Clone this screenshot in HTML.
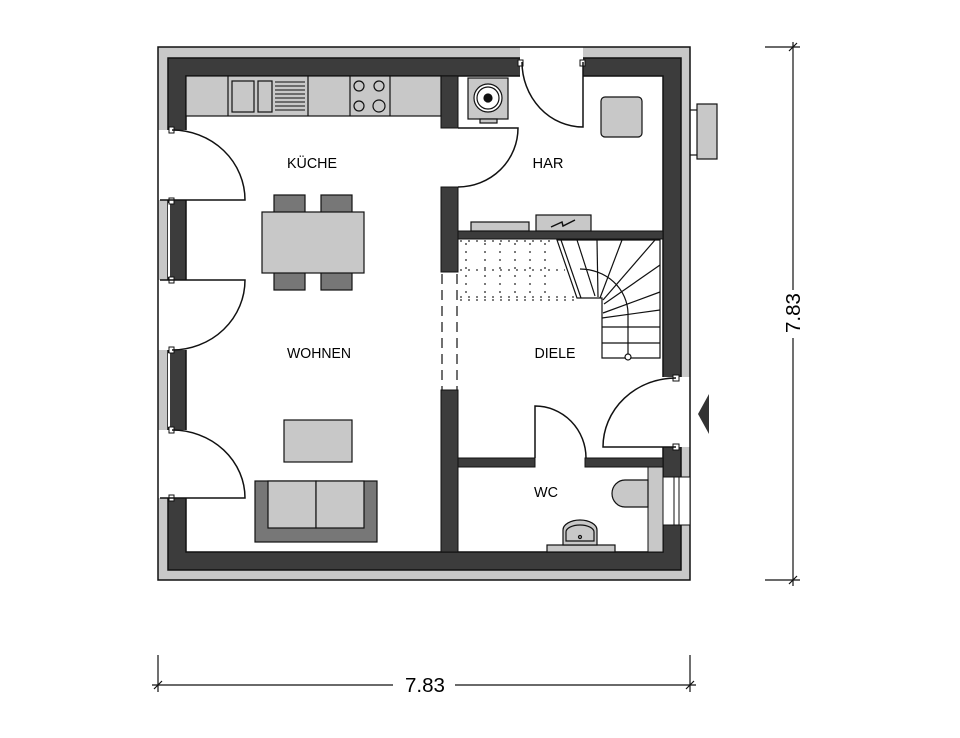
<!DOCTYPE html>
<html><head><meta charset="utf-8"><style>
html,body{margin:0;padding:0;background:#fff;}
svg{display:block;}
text{font-family:"Liberation Sans",sans-serif;font-size:15px;fill:#000;}
</style></head><body>
<svg width="960" height="738" viewBox="0 0 960 738" xmlns="http://www.w3.org/2000/svg">
<g stroke="#111" stroke-width="1.5">
<rect x="158" y="47" width="532" height="533" fill="#c8c8c8"/>
<rect x="168" y="58" width="513" height="512" fill="#3c3c3c"/>
<rect x="186" y="76" width="477" height="476" fill="#fff"/>
</g>
<rect x="157" y="130" width="30" height="70" fill="#fff"/>
<rect x="157" y="280" width="30" height="70" fill="#fff"/>
<rect x="157" y="430" width="30" height="68" fill="#fff"/>
<line x1="158" y1="130" x2="158" y2="200" stroke="#111" stroke-width="1.5"/>
<line x1="158" y1="280" x2="158" y2="350" stroke="#111" stroke-width="1.5"/>
<line x1="158" y1="430" x2="158" y2="498" stroke="#111" stroke-width="1.5"/>
<rect x="168" y="203" width="2" height="74" fill="#fff"/>
<rect x="168" y="353" width="2" height="74" fill="#fff"/>
<g fill="#fff" stroke="#111" stroke-width="1">
<rect x="169" y="127" width="5" height="6"/><rect x="169" y="198" width="5" height="6"/>
<rect x="169" y="277" width="5" height="6"/><rect x="169" y="347" width="5" height="6"/>
<rect x="169" y="427" width="5" height="6"/><rect x="169" y="495" width="5" height="6"/>
</g>
<g fill="none" stroke="#111" stroke-width="1.5">
<path d="M172 130 A73 70 0 0 1 245 200 L160 200"/>
<path d="M160 280 L245 280 A73 70 0 0 1 172 350"/>
<path d="M172 430 A73 68 0 0 1 245 498 L160 498"/>
</g>
<rect x="520" y="46" width="63" height="31" fill="#fff"/>
<line x1="520" y1="47" x2="583" y2="47" stroke="#111" stroke-width="1.5"/>
<g fill="#fff" stroke="#111" stroke-width="1"><rect x="518" y="60" width="5" height="6"/><rect x="580" y="60" width="5" height="6"/></g>
<path d="M522 62 A61 65 0 0 0 583 127 L583 62" fill="none" stroke="#111" stroke-width="1.5"/>
<rect x="662" y="377" width="29" height="70" fill="#fff"/>
<line x1="690" y1="377" x2="690" y2="447" stroke="#111" stroke-width="1.5"/>
<g fill="#fff" stroke="#111" stroke-width="1"><rect x="673" y="375" width="6" height="6"/><rect x="673" y="444" width="6" height="6"/></g>
<path d="M676 378 A73 69 0 0 0 603 447 L676 447" fill="none" stroke="#111" stroke-width="1.5"/>
<rect x="663" y="477" width="27" height="48" fill="#fff" stroke="#111" stroke-width="1"/>
<rect x="674" y="477" width="5" height="48" fill="#fff" stroke="#111" stroke-width="1"/>
<rect x="441" y="76" width="17" height="52" fill="#3c3c3c" stroke="#111"/>
<rect x="441" y="187" width="17" height="85" fill="#3c3c3c" stroke="#111"/>
<rect x="441" y="390" width="17" height="162" fill="#3c3c3c" stroke="#111"/>
<g stroke="#111" stroke-width="1.2" stroke-dasharray="10 6"><line x1="442" y1="274" x2="442" y2="390"/><line x1="457" y1="274" x2="457" y2="390"/></g>
<path d="M458 187 A60 59 0 0 0 518 128 L458 128" fill="none" stroke="#111" stroke-width="1.5"/>
<rect x="458" y="231" width="205" height="8" fill="#3c3c3c" stroke="#111"/>
<rect x="458" y="458" width="77" height="9" fill="#3c3c3c" stroke="#111"/>
<rect x="585" y="458" width="78" height="9" fill="#3c3c3c" stroke="#111"/>
<path d="M535 458 L535 406 A51 52 0 0 1 586 458" fill="none" stroke="#111" stroke-width="1.5"/>
<rect x="648" y="467" width="15" height="85" fill="#c8c8c8" stroke="#111"/>
<g stroke="#111" stroke-width="1.2" fill="#c8c8c8">
<rect x="186" y="76" width="255" height="40"/>
<line x1="228" y1="76" x2="228" y2="116"/><line x1="308" y1="76" x2="308" y2="116"/>
<line x1="350" y1="76" x2="350" y2="116"/><line x1="390" y1="76" x2="390" y2="116"/>
<rect x="232" y="81" width="22" height="31"/><rect x="258" y="81" width="14" height="31"/>
<circle cx="359" cy="86" r="5" fill="none"/><circle cx="379" cy="86" r="5" fill="none"/>
<circle cx="359" cy="106" r="5" fill="none"/><circle cx="379" cy="106" r="6" fill="none"/>
</g>
<g stroke="#111" stroke-width="1"><line x1="275" y1="82" x2="305" y2="82"/><line x1="275" y1="86" x2="305" y2="86"/><line x1="275" y1="90" x2="305" y2="90"/><line x1="275" y1="94" x2="305" y2="94"/><line x1="275" y1="98" x2="305" y2="98"/><line x1="275" y1="102" x2="305" y2="102"/><line x1="275" y1="106" x2="305" y2="106"/><line x1="275" y1="110" x2="305" y2="110"/></g>
<g stroke="#111" stroke-width="1.2">
<rect x="274" y="195" width="31" height="18" fill="#777"/><rect x="321" y="195" width="31" height="18" fill="#777"/>
<rect x="274" y="272" width="31" height="18" fill="#777"/><rect x="321" y="272" width="31" height="18" fill="#777"/>
<rect x="262" y="212" width="102" height="61" fill="#c8c8c8"/>
<rect x="284" y="420" width="68" height="42" fill="#c8c8c8"/>
<rect x="255" y="481" width="122" height="61" fill="#777"/>
<rect x="268" y="481" width="48" height="47" fill="#c8c8c8"/><rect x="316" y="481" width="48" height="47" fill="#c8c8c8"/>
</g>
<g stroke="#111" stroke-width="1.2">
<rect x="468" y="78" width="40" height="41" fill="#c8c8c8"/>
<circle cx="488" cy="98" r="14" fill="#fff"/><circle cx="488" cy="98" r="11" fill="none"/><circle cx="488" cy="98" r="4" fill="#111"/>
<rect x="480" y="119" width="17" height="4" fill="#c8c8c8"/>
<rect x="601" y="97" width="41" height="40" rx="4" fill="#c8c8c8"/>
<rect x="471" y="222" width="58" height="9" fill="#c8c8c8"/>
<rect x="536" y="215" width="55" height="16" fill="#c8c8c8"/>
</g>
<path d="M551 227 L562 222 L563 226 L575 220" stroke="#111" fill="none" stroke-width="1.5"/>
<g stroke="#333" stroke-width="1.3" stroke-dasharray="2 6" fill="none">
<line x1="460" y1="241" x2="555" y2="241"/><line x1="460" y1="270" x2="565" y2="270"/>
<line x1="460" y1="297" x2="575" y2="297"/><line x1="460" y1="300" x2="575" y2="300"/>
<line x1="466" y1="243" x2="466" y2="298"/><line x1="485" y1="243" x2="485" y2="298"/>
<line x1="500" y1="243" x2="500" y2="298"/><line x1="515" y1="243" x2="515" y2="298"/>
<line x1="530" y1="243" x2="530" y2="298"/><line x1="545" y1="243" x2="545" y2="298"/>
</g>
<g stroke="#111" stroke-width="1.2" fill="none">
<path d="M557 240 L660 240 L660 358 L602 358 L602 298 L577 298 Z" fill="#fff"/>
<path d="M561 240 L581 298"/>
<line x1="577" y1="240" x2="595" y2="296"/><line x1="597" y1="240" x2="598" y2="297"/>
<line x1="622" y1="240" x2="600" y2="298"/><line x1="655" y1="240" x2="603" y2="300"/>
<line x1="660" y1="265" x2="604" y2="304"/><line x1="660" y1="292" x2="603" y2="313"/>
<line x1="602" y1="318" x2="660" y2="310"/><line x1="602" y1="327" x2="660" y2="327"/>
<line x1="602" y1="343" x2="660" y2="343"/>
<path d="M580 269 A48 45 0 0 1 628 313 L628 356"/>
<circle cx="628" cy="357" r="3" fill="#fff"/>
</g>
<g stroke="#111" stroke-width="1.2" fill="#c8c8c8">
<path d="M648 480 L625 480 A13 13.5 0 0 0 625 507 L648 507 Z"/>
<rect x="547" y="545" width="68" height="7"/>
<path d="M563 545 L563 530 A17 10 0 0 1 597 530 L597 545 Z"/>
<path d="M566 541 L566 532 A14 7 0 0 1 594 532 L594 541 Z"/>
<circle cx="580" cy="537" r="1.5" fill="none"/>
</g>
<g stroke="#111" stroke-width="1.2">
<line x1="690" y1="110" x2="697" y2="110"/><line x1="690" y1="155" x2="697" y2="155"/>
<rect x="697" y="104" width="20" height="55" fill="#c8c8c8"/>
</g>
<path d="M709 394 L698 414 L709 434 Z" fill="#333"/>
<text x="312" y="168" text-anchor="middle" textLength="50" lengthAdjust="spacingAndGlyphs">KÜCHE</text>
<text x="548" y="168" text-anchor="middle" textLength="31" lengthAdjust="spacingAndGlyphs">HAR</text>
<text x="319" y="358" text-anchor="middle" textLength="64" lengthAdjust="spacingAndGlyphs">WOHNEN</text>
<text x="555" y="358" text-anchor="middle" textLength="41" lengthAdjust="spacingAndGlyphs">DIELE</text>
<text x="546" y="497" text-anchor="middle" textLength="24" lengthAdjust="spacingAndGlyphs">WC</text>
<g stroke="#111" stroke-width="1.2">
<line x1="793" y1="42" x2="793" y2="290"/><line x1="793" y1="338" x2="793" y2="586"/>
<line x1="765" y1="47" x2="800" y2="47"/><line x1="765" y1="580" x2="800" y2="580"/>
<line x1="789" y1="51" x2="797" y2="43"/><line x1="789" y1="584" x2="797" y2="576"/>
<line x1="152" y1="685" x2="393" y2="685"/><line x1="455" y1="685" x2="696" y2="685"/>
<line x1="158" y1="655" x2="158" y2="692"/><line x1="690" y1="655" x2="690" y2="692"/>
<line x1="154" y1="689" x2="162" y2="681"/><line x1="686" y1="689" x2="694" y2="681"/>
</g>
<text x="425" y="692" text-anchor="middle" style="font-size:20px" textLength="40" lengthAdjust="spacingAndGlyphs">7.83</text>
<text transform="translate(800,313) rotate(-90)" text-anchor="middle" style="font-size:20px" textLength="40" lengthAdjust="spacingAndGlyphs">7.83</text>
</svg>
</body></html>
